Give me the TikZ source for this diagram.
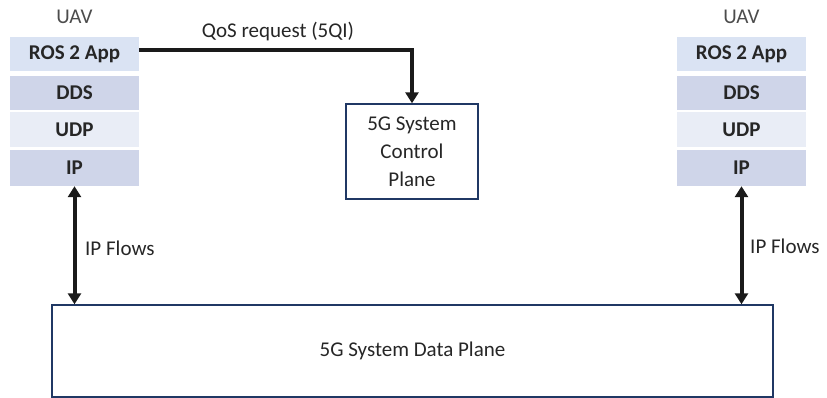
\documentclass[tikz,border=0pt]{standalone}
\usepackage{fontspec}
\setmainfont{Carlito}
\usetikzlibrary{arrows.meta}
\definecolor{cros}{RGB}{218,227,243}
\definecolor{cdds}{RGB}{207,213,233}
\definecolor{cudp}{RGB}{233,237,246}
\definecolor{navy}{RGB}{32,56,100}
\definecolor{txt}{RGB}{38,38,38}
\definecolor{arr}{RGB}{26,26,26}
\tikzset{
  layer/.style={minimum width=129pt, inner sep=0pt, text=txt, font=\fontsize{21}{25}\selectfont\bfseries},
  plainbox/.style={draw=navy, line width=1.4pt, inner sep=0pt, text=txt, font=\fontsize{21}{28}\selectfont, align=center},
  lbl/.style={text=txt, font=\fontsize{21}{25}\selectfont, inner sep=0pt},
  conn/.style={draw=arr, line width=4pt},
  tip/.style={Triangle[width=13pt,length=11pt]}
}
\begin{document}
\begin{tikzpicture}[x=1pt,y=-1pt]
\useasboundingbox (0,0) rectangle (827,398);
% left stack
\node[lbl, text=black!70] (luav) at (74.5,17) {UAV};
\node[layer, fill=cros, minimum height=34pt] (lros) at (74.5,54) {ROS 2 App};
\node[layer, fill=cdds, minimum height=34pt] (ldds) at (74.5,93) {DDS};
\node[layer, fill=cudp, minimum height=35pt] (ludp) at (74.5,129.5) {UDP};
\node[layer, fill=cdds, minimum height=36pt] (lip) at (74.5,168) {IP};
% right stack
\node[lbl, text=black!70] (ruav) at (741.5,17) {UAV};
\node[layer, fill=cros, minimum height=34pt] (rros) at (741.5,54) {ROS 2 App};
\node[layer, fill=cdds, minimum height=34pt] (rdds) at (741.5,93) {DDS};
\node[layer, fill=cudp, minimum height=35pt] (rudp) at (741.5,129.5) {UDP};
\node[layer, fill=cdds, minimum height=36pt] (rip) at (741.5,168) {IP};
% control plane
\node[plainbox, minimum width=132pt, minimum height=95pt] (cp) at (412,151.5) {5G System\\Control\\Plane};
% data plane
\node[plainbox, minimum width=721pt, minimum height=92pt] (dp) at (412.5,351) {5G System Data Plane};
% QoS connector
\draw[conn, -{Triangle[width=13pt,length=11pt]}] ([yshift=3.5pt]lros.east) -| (cp.north);
\node[lbl] (qos) at (278,32) {QoS request (5QI)};
% IP flows
\draw[conn, {Triangle[width=13pt,length=11pt]}-{Triangle[width=13pt,length=11pt]}] (lip.south) -- (lip.south |- dp.north);
\draw[conn, {Triangle[width=13pt,length=11pt]}-{Triangle[width=13pt,length=11pt]}] (rip.south) -- (rip.south |- dp.north);
\node[lbl, anchor=west] (lflow) at (85,248) {IP Flows};
\node[lbl, anchor=west] (rflow) at (750,246) {IP Flows};
\end{tikzpicture}
\end{document}
